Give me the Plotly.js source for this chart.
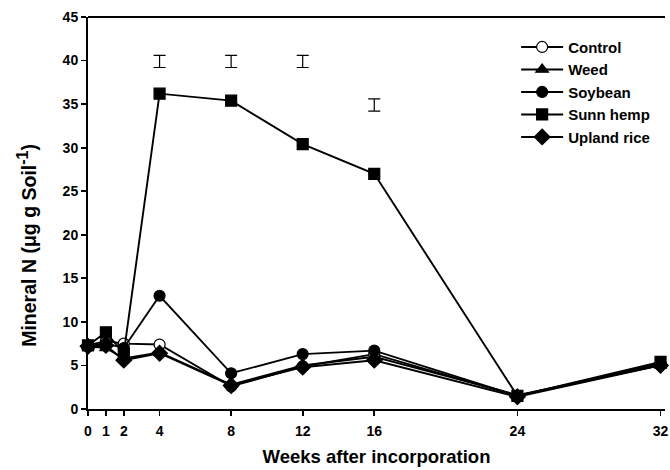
<!DOCTYPE html>
<html><head><meta charset="utf-8">
<script src="https://cdn.plot.ly/plotly-3.0.1.min.js"></script>
<style>html,body{margin:0;padding:0;background:#fff}</style>
</head><body><div id="chart" style="width:670px;height:470px"></div>
<script>
var weeks = [0, 1, 2, 4, 8, 12, 16, 24, 32];
var control = [7.3, 7.8, 7.5, 7.4, 2.6, 4.9, 6.3, 1.5, 5.1];
var weed = [7.2, 7.0, 5.8, 6.5, 2.8, 5.0, 6.0, 1.6, 5.0];
var soybean = [7.3, 7.5, 7.0, 13.0, 4.1, 6.3, 6.7, 1.5, 5.2];
var sunnHemp = [7.3, 8.8, 6.4, 36.2, 35.4, 30.4, 27.0, 1.5, 5.4];
var uplandRice = [7.2, 7.3, 5.6, 6.4, 2.7, 4.8, 5.6, 1.4, 5.0];
var lsdWeeks = [4, 8, 12, 16];
var lsdCenter = [39.9, 39.9, 39.9, 34.9];
var lsdHalf = [0.7, 0.7, 0.7, 0.7];
var xTicks = [0, 1, 2, 4, 8, 12, 16, 24, 32];
var yTicks = [0, 5, 10, 15, 20, 25, 30, 35, 40, 45];

function series(name, y, symbol, fill) {
  return {x: weeks, y: y, name: name, type: 'scatter', mode: 'lines+markers',
    line: {color: '#000', width: 1.9},
    marker: {symbol: symbol, size: symbol === 'diamond' ? 12 : 11, color: fill, line: {color: '#000', width: 1.2}},
    cliponaxis: false};
}
var data = [
  series('Control', control, 'circle', '#fff'),
  series('Weed', weed, 'triangle-up', '#000'),
  series('Soybean', soybean, 'circle', '#000'),
  series('Sunn hemp', sunnHemp, 'square', '#000'),
  series('Upland rice', uplandRice, 'diamond', '#000'),
  {x: lsdWeeks, y: lsdCenter, type: 'scatter', mode: 'markers', showlegend: false,
   marker: {opacity: 0, size: 1},
   error_y: {type: 'data', array: lsdHalf, visible: true, color: '#000', thickness: 1.2, width: 6}}
];
var fam = 'Liberation Sans, Arial, sans-serif';
var tickFont = {family: fam, size: 14, color: '#000', weight: 'bold'};
var layout = {
  width: 670, height: 470,
  margin: {l: 88, r: 5, t: 17, b: 61},
  paper_bgcolor: '#fff', plot_bgcolor: '#fff',
  font: tickFont,
  showlegend: true,
  legend: {x: 0.742, y: 0.965, xanchor: 'left', yanchor: 'top',
           font: {family: fam, size: 15, color: '#000', weight: 'bold'},
           bgcolor: 'rgba(0,0,0,0)', tracegroupgap: 0, itemwidth: 42},
  xaxis: {range: [0, 32.25], tickmode: 'array', tickvals: xTicks, ticktext: xTicks.map(String),
    showgrid: false, zeroline: false, showline: true, linecolor: '#000', linewidth: 2,
    ticks: 'outside', ticklen: 5, tickwidth: 1.8, tickcolor: '#000', tickfont: tickFont,
    ticklabelstandoff: 3,
    title: {text: 'Weeks after incorporation', font: {family: fam, size: 18.5, weight: 'bold', color: '#000'}, standoff: 12}},
  yaxis: {range: [0, 45], tickmode: 'array', tickvals: yTicks,
    showgrid: false, zeroline: false, showline: true, linecolor: '#000', linewidth: 2,
    ticks: 'outside', ticklen: 5, tickwidth: 1.8, tickcolor: '#000', tickfont: tickFont},
  annotations: [{text: 'Mineral N (\u03bcg g Soil<sup><span style="font-size:16px">-1</span></sup>)',
    xref: 'paper', yref: 'paper', x: -0.107, y: 0.417, xanchor: 'center', yanchor: 'middle',
    textangle: -90, showarrow: false,
    font: {family: fam, size: 19.5, weight: 'bold', color: '#000'}}],
  shapes: [{type: 'line', xref: 'paper', yref: 'paper', x0: 0, x1: 1, y0: 1, y1: 1, line: {color: '#000', width: 2}}]
};
Plotly.newPlot('chart', data, layout, {displayModeBar: false, staticPlot: true});
</script></body></html>
